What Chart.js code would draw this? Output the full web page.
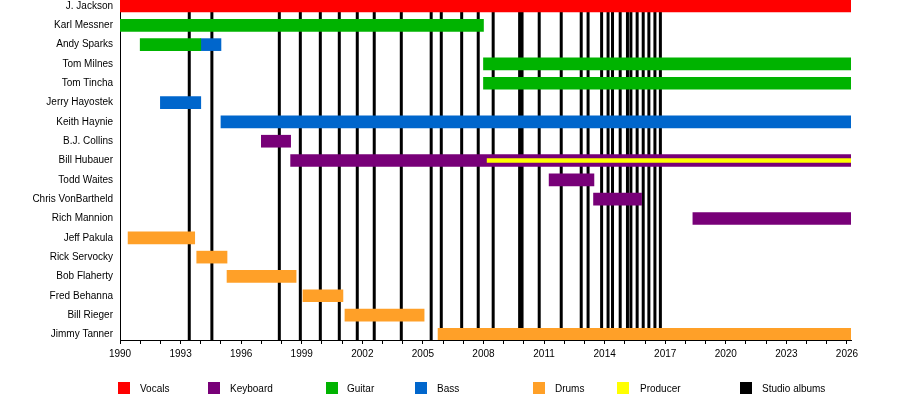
<!DOCTYPE html>
<html>
<head>
<meta charset="utf-8">
<style>
  body { margin: 0; background: #fff; }
  #wrap { position: relative; width: 900px; height: 400px; }
  #legend { position: absolute; top: 382px; left: 0; width: 900px; height: 14px;
            font: 10px "Liberation Sans", Arial, sans-serif; color: #000; }
  #legend .box { position: absolute; top: 0; width: 12px; height: 12px; }
  #legend .lbl { position: absolute; top: 0; line-height: 13px; white-space: nowrap; }
</style>
<script src="https://cdn.jsdelivr.net/npm/chart.js"></script>
</head>
<body>
<div id="wrap">
  <canvas id="timeline" width="900" height="400"></canvas>
  <div id="legend"></div>
</div>
<script>
const END = 2026.2;

const members = [
  "J. Jackson", "Karl Messner", "Andy Sparks", "Tom Milnes", "Tom Tincha",
  "Jerry Hayostek", "Keith Haynie", "B.J. Collins", "Bill Hubauer", "Todd Waites",
  "Chris VonBartheld", "Rich Mannion", "Jeff Pakula", "Rick Servocky", "Bob Flaherty",
  "Fred Behanna", "Bill Rieger", "Jimmy Tanner"
];

// [member, start, end]
const vocals = [["J. Jackson", 1990, END]];
const keyboard = [
  ["B.J. Collins", 1997, 1998.45],
  ["Bill Hubauer", 1998.45, END],
  ["Todd Waites", 2011.25, 2013.47],
  ["Chris VonBartheld", 2013.45, 2015.83],
  ["Rich Mannion", 2018.37, END]
];
const guitar = [
  ["Karl Messner", 1990, 2008],
  ["Andy Sparks", 1991, 1994],
  ["Tom Milnes", 2008, END],
  ["Tom Tincha", 2008, END]
];
const bass = [
  ["Andy Sparks", 1994, 1995],
  ["Jerry Hayostek", 1992, 1994],
  ["Keith Haynie", 1995, END]
];
const drums = [
  ["Jeff Pakula", 1990.4, 1993.7],
  ["Rick Servocky", 1993.8, 1995.3],
  ["Bob Flaherty", 1995.3, 1998.72],
  ["Fred Behanna", 1999.06, 2001.04],
  ["Bill Rieger", 2001.14, 2005.06],
  ["Jimmy Tanner", 2005.75, END]
];
const producer = [["Bill Hubauer", 2008.18, END]];

const albumYears = [
  1993.43, 1994.55, 1997.89, 1998.93, 1999.92, 2000.86, 2001.75, 2002.59,
  2003.93, 2005.41, 2005.91, 2006.92, 2007.74, 2008.48, 2009.79, 2009.91,
  2010.76, 2011.85, 2012.84, 2013.18, 2013.85, 2014.17, 2014.39, 2014.77,
  2015.13, 2015.30, 2015.61, 2015.91, 2016.19, 2016.49, 2016.76
];

const yearTicks = [];
for (let y = 1990; y <= 2026; y++) yearTicks.push(y);

const legendItems = [
  { label: "Vocals", color: "#ff0000", box: 118, text: 140 },
  { label: "Keyboard", color: "#780078", box: 208, text: 230 },
  { label: "Guitar", color: "#00b300", box: 326, text: 347 },
  { label: "Bass", color: "#0066cc", box: 415, text: 437 },
  { label: "Drums", color: "#ffa028", box: 533, text: 555 },
  { label: "Producer", color: "#ffff00", box: 617, text: 640 },
  { label: "Studio albums", color: "#000000", box: 740, text: 762 }
];

const Y_MIN = -0.31, Y_MAX = 17.29;
const FONT = { family: '"Liberation Sans", Arial, sans-serif', size: 10 };

function spans(list) {
  return list.map(([name, s, e]) => ({ x: [s, e], y: members.indexOf(name) }));
}

function roleSet(label, list, color, thick, order) {
  return {
    type: "bar",
    label: label,
    data: spans(list),
    backgroundColor: color,
    borderWidth: 0,
    barThickness: thick,
    grouped: false,
    order: order
  };
}

const albumPoints = [];
albumYears.forEach(yr => {
  albumPoints.push({ x: yr, y: Y_MIN }, { x: yr, y: Y_MAX }, { x: null, y: null });
});

const datasets = [
  {
    type: "line",
    label: "Studio albums",
    data: albumPoints,
    borderColor: "#000",
    borderWidth: 3,
    borderCapStyle: "butt",
    pointRadius: 0,
    spanGaps: false,
    order: 5
  },
  roleSet("Vocals", vocals, "#ff0000", 12, 1),
  roleSet("Keyboard", keyboard, "#780078", 12, 1),
  roleSet("Guitar", guitar, "#00b300", 12, 1),
  roleSet("Bass", bass, "#0066cc", 12, 1),
  roleSet("Drums", drums, "#ffa028", 12, 1),
  roleSet("Producer", producer, "#ffff00", 4, 0)
];

new Chart(document.getElementById("timeline"), {
  type: "bar",
  data: { datasets: datasets },
  options: {
    indexAxis: "y",
    responsive: false,
    animation: false,
    layout: { padding: { top: 0, right: 49, bottom: 0, left: 0 } },
    plugins: { legend: { display: false }, tooltip: { enabled: false } },
    scales: {
      x: {
        type: "linear",
        min: 1990,
        max: END,
        afterBuildTicks: axis => { axis.ticks = yearTicks.map(v => ({ value: v })); },
        afterFit: axis => { axis.height = 60; },
        ticks: {
          autoSkip: false,
          maxRotation: 0,
          minRotation: 0,
          padding: 4,
          color: "#000",
          font: FONT,
          callback: v => ((v - 1990) % 3 === 0 ? String(v) : "")
        },
        grid: { drawOnChartArea: false, drawTicks: true, tickLength: 4, color: "#000" },
        border: { display: true, color: "#000", width: 1 }
      },
      y: {
        type: "linear",
        reverse: true,
        offset: false,
        min: Y_MIN,
        max: Y_MAX,
        afterBuildTicks: axis => { axis.ticks = members.map((m, i) => ({ value: i })); },
        afterFit: axis => {
          axis.width = 120;
          axis.paddingTop = 0;
          axis.paddingBottom = 0;
        },
        ticks: {
          autoSkip: false,
          padding: 7,
          color: "#000",
          font: FONT,
          callback: v => members[v] || ""
        },
        grid: { display: false, drawTicks: false, offset: false },
        border: { display: true, color: "#000", width: 1 }
      }
    }
  }
});

const legend = document.getElementById("legend");
legendItems.forEach(item => {
  const box = document.createElement("div");
  box.className = "box";
  box.style.left = item.box + "px";
  box.style.background = item.color;
  legend.appendChild(box);
  const lbl = document.createElement("div");
  lbl.className = "lbl";
  lbl.style.left = item.text + "px";
  lbl.textContent = item.label;
  legend.appendChild(lbl);
});
</script>
</body>
</html>
